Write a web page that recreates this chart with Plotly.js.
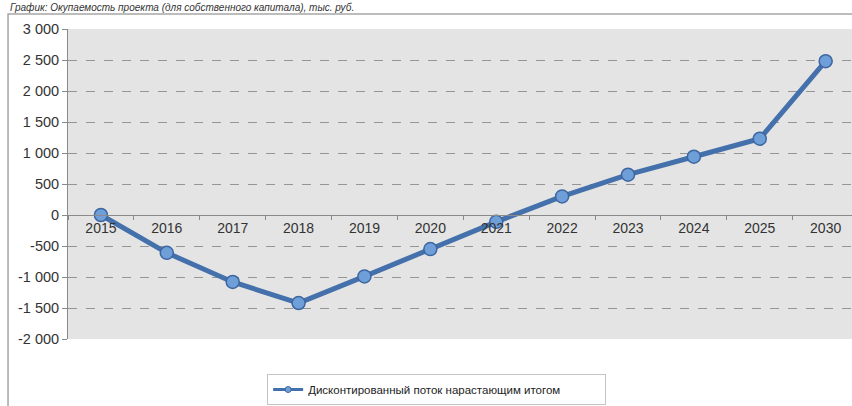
<!DOCTYPE html>
<html><head><meta charset="utf-8">
<script src="https://cdn.plot.ly/plotly-3.0.1.min.js"></script>
<style>html,body{margin:0;padding:0;background:#fff;}#chart{width:852px;height:406px;}</style>
</head><body><div id="chart"></div>
<script>
const years = ['2015','2016','2017','2018','2019','2020','2021','2022','2023','2024','2025','2030'];
const cumulativeFlow = [0, -610, -1080, -1420, -990, -550, -110, 300, 650, 940, 1230, 2480];
const yTickVals = [3000, 2500, 2000, 1500, 1000, 500, 0, -500, -1000, -1500, -2000];
const yTickText = ['3 000','2 500','2 000','1 500','1 000','500','0','-500','-1 000','-1 500','-2 000'];
const seriesName = 'Дисконтированный поток нарастающим итогом';
const chartTitle = 'График: Окупаемость проекта (для собственного капитала), тыс. руб.';

const lineColor = '#4470ab';
const trace = {
  x: years, y: cumulativeFlow, type: 'scatter', mode: 'lines+markers', name: seriesName,
  showlegend: false,
  line: {color: lineColor, width: 5},
  marker: {size: 13, color: '#6f9fd9', line: {color: '#3d67a0', width: 1.5}}
};
// legend entry (same series, smaller legend marker)
const legendTrace = {
  x: [years[0]], y: [null], type: 'scatter', mode: 'lines+markers', name: seriesName,
  showlegend: true, hoverinfo: 'skip',
  line: {color: lineColor, width: 3},
  marker: {size: 6, color: '#6f9fd9', line: {color: '#3d67a0', width: 1}}
};
const layout = {
  width: 852, height: 406,
  margin: {l: 68, r: 0, t: 29, b: 67},
  paper_bgcolor: '#ffffff', plot_bgcolor: '#e4e4e4',
  font: {family: 'Liberation Sans, Arial, sans-serif', color: '#333'},
  showlegend: true,
  legend: {orientation: 'h', x: 0.254, xanchor: 'left', y: -0.113, yanchor: 'top',
    bordercolor: '#c4c4c4', borderwidth: 1, bgcolor: '#fff', font: {size: 11.5, color: '#222'},
    entrywidth: 292, entrywidthmode: 'pixels'},
  xaxis: {type: 'category', range: [-0.5, 11.4], anchor: 'free', position: 0.4,
    showline: true, linecolor: '#8a8a8a', linewidth: 1, showgrid: false,
    ticks: 'outside', tickson: 'boundaries', ticklen: 4, tickcolor: '#8a8a8a',
    tickfont: {size: 14, color: '#333'}, zeroline: false, fixedrange: true},
  yaxis: {range: [-2000, 3000], tickvals: yTickVals, ticktext: yTickText,
    showline: true, linecolor: '#8a8a8a', linewidth: 1,
    showgrid: true, gridcolor: '#959595', griddash: 'dash', gridwidth: 1,
    zeroline: false, ticks: 'outside', ticklen: 5, tickcolor: '#8a8a8a',
    tickfont: {size: 14.5, color: '#333'}, fixedrange: true},
  shapes: [{type: 'rect', xref: 'paper', yref: 'paper', x0: -0.0765, x1: 1.05, y0: -0.25, y1: 1.048,
    line: {color: '#a6a6a6', width: 1.5}, fillcolor: 'rgba(0,0,0,0)', layer: 'below'}],
  annotations: [{text: '<i>' + chartTitle + '</i>', xref: 'paper', yref: 'paper',
    x: -0.076, y: 1.0935, xanchor: 'left', yanchor: 'top', showarrow: false,
    font: {size: 10, color: '#333'}}]
};
Plotly.newPlot('chart', [trace, legendTrace], layout, {displayModeBar: false, staticPlot: true});
</script></body></html>
